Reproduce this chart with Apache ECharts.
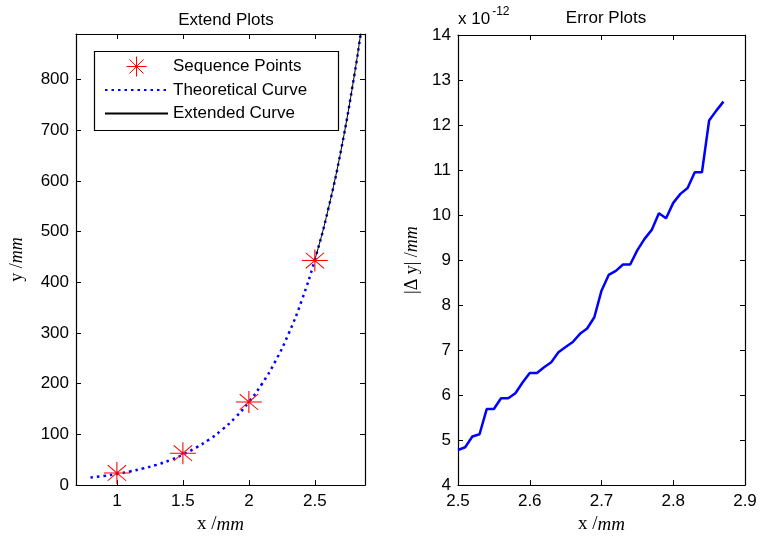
<!DOCTYPE html>
<html><head><meta charset="utf-8">
<script src="https://cdn.jsdelivr.net/npm/echarts@6/dist/echarts.min.js"></script>
<style>html,body{margin:0;padding:0;background:#fff}#c{width:760px;height:539px}</style>
</head><body><div id="c"></div>
<script>
// ---- data ----
const seqX = [1, 1.5, 2, 2.5];
const seqY = [24, 63, 164, 443];

const theoX = [0.8, 0.9, 1.0, 1.1, 1.2, 1.3, 1.4, 1.5, 1.6, 1.7, 1.8, 1.9, 2.0, 2.1, 2.2, 2.3, 2.4, 2.5, 2.6, 2.7, 2.8, 2.85, 2.88];
const theoY = [15, 18, 22, 27, 33, 40, 49, 60, 74, 90, 110, 134, 164, 200, 244, 298, 364, 445, 543, 663, 810, 895, 950];

const extX = [2.5, 2.55, 2.6, 2.65, 2.7, 2.75, 2.8, 2.85, 2.88];
const extY = [445, 491, 543, 600, 663, 733, 810, 895, 950];

const errX = [2.50, 2.51, 2.52, 2.53, 2.54, 2.55, 2.56, 2.57, 2.58, 2.59, 2.60, 2.61, 2.62, 2.63, 2.64, 2.65, 2.66, 2.67, 2.68, 2.69,
              2.70, 2.71, 2.72, 2.73, 2.74, 2.75, 2.76, 2.77, 2.78, 2.79, 2.80, 2.81, 2.82, 2.83, 2.84, 2.85, 2.86, 2.87];
const errY = [4.78, 4.84, 5.08, 5.13, 5.69, 5.69, 5.93, 5.93, 6.04, 6.28, 6.49, 6.49, 6.62, 6.73, 6.95, 7.07, 7.18, 7.36, 7.48, 7.73,
              8.32, 8.67, 8.76, 8.90, 8.90, 9.22, 9.47, 9.67, 10.04, 9.93, 10.27, 10.47, 10.60, 10.95, 10.95, 12.10, 12.32, 12.52];

const leftXTicks = [1, 1.5, 2, 2.5];
const leftYTicks = [0, 100, 200, 300, 400, 500, 600, 700, 800];
const rightXTicks = [2.5, 2.6, 2.7, 2.8, 2.9];
const rightYTicks = [4, 5, 6, 7, 8, 9, 10, 11, 12, 13, 14];

const seriesNames = ['Sequence Points', 'Theoretical Curve', 'Extended Curve'];
const titles = ['Extend Plots', 'Error Plots'];
const multiplierText = ['x 10', '-12'];

// ---- styling ----
const SANS = 'Arial, "Liberation Sans", Helvetica, sans-serif';
const SERIF = '"Times New Roman", "Liberation Serif", serif';
const starPath = 'path://M0,12L24,12M12,0L12,24M3.5,3.5L20.5,20.5M20.5,3.5L3.5,20.5';
const pairs = (xs, ys) => xs.map((x, i) => [x, ys[i]]);
const hiddenSym = { color: 'rgba(0,0,0,0)', borderColor: 'rgba(0,0,0,0)', borderWidth: 0, opacity: 0 };

const lbl = { color: '#000', fontFamily: SANS, fontSize: 17 };
function axisX(grid, min, max, ticks, pos, showLabel, name) {
  return {
    type: 'value', gridIndex: grid, min, max, position: pos,
    splitLine: { show: false },
    axisLine: { show: true, onZero: false, lineStyle: { color: '#000', width: 1.2 } },
    axisTick: { show: true, inside: true, length: 5, customValues: ticks, lineStyle: { color: '#000' } },
    axisLabel: Object.assign({ show: showLabel, margin: 8, customValues: ticks, showMinLabel: true, showMaxLabel: true }, lbl),
    name: name || '', nameLocation: 'middle', nameGap: 29,
    nameTextStyle: { rich: { n: { fontFamily: SERIF, fontSize: 19, color: '#000' }, i: { fontFamily: SERIF, fontSize: 19, fontStyle: 'italic', color: '#000' } } }
  };
}
function axisY(grid, min, max, ticks, pos, showLabel, name, gap) {
  return {
    type: 'value', gridIndex: grid, min, max, position: pos,
    splitLine: { show: false },
    axisLine: { show: true, onZero: false, lineStyle: { color: '#000', width: 1.2 } },
    axisTick: { show: true, inside: true, length: 5, customValues: ticks, lineStyle: { color: '#000' } },
    axisLabel: Object.assign({ show: showLabel, margin: 7, customValues: ticks, showMinLabel: true, showMaxLabel: true }, lbl),
    name: name || '', nameLocation: 'middle', nameGap: gap || 40, nameRotate: 90,
    nameTextStyle: { rich: { n: { fontFamily: SERIF, fontSize: 18, color: '#000' }, i: { fontFamily: SERIF, fontSize: 18, fontStyle: 'italic', color: '#000' } } }
  };
}

const chart = echarts.init(document.getElementById('c'), null, { renderer: 'canvas' });
chart.setOption({
  backgroundColor: '#fff',
  animation: false,
  title: [
    { text: titles[0], left: 221, top: 7, textAlign: 'center', textStyle: { fontFamily: SANS, fontSize: 17, fontWeight: 'normal', color: '#000' } },
    { text: titles[1], left: 601, top: 5, textAlign: 'center', textStyle: { fontFamily: SANS, fontSize: 17, fontWeight: 'normal', color: '#000' } }
  ],
  grid: [
    { left: 76, top: 34, width: 289, height: 453 },
    { left: 458, top: 35, width: 287, height: 451 }
  ],
  xAxis: [
    axisX(0, 0.69, 2.88, leftXTicks, 'bottom', true, '{n|x /}{i|mm}'),
    axisX(0, 0.69, 2.88, leftXTicks, 'top', false),
    axisX(1, 2.5, 2.9, rightXTicks, 'bottom', true, '{n|x /}{i|mm}'),
    axisX(1, 2.5, 2.9, rightXTicks, 'top', false)
  ],
  yAxis: [
    axisY(0, 0, 890, leftYTicks, 'left', true, '{n|y /}{i|mm}', 50),
    axisY(0, 0, 890, leftYTicks, 'right', false),
    axisY(1, 4, 14, rightYTicks, 'left', true, '{n||Δ y| /}{i|mm}', 37),
    axisY(1, 4, 14, rightYTicks, 'right', false)
  ],
  legend: {
    orient: 'vertical', left: 104, top: 55, padding: 0,
    itemWidth: 63, itemHeight: 20, itemGap: 0.5,
    textStyle: { fontFamily: SANS, fontSize: 17, color: '#000', lineHeight: 23 },
    data: [
      { name: seriesNames[0], icon: starPath, itemStyle: { color: 'rgba(0,0,0,0)', borderColor: '#ff0000', borderWidth: 1 } },
      { name: seriesNames[1], itemStyle: hiddenSym },
      { name: seriesNames[2], itemStyle: hiddenSym }
    ]
  },
  graphic: [
    { type: 'rect', left: 92, top: 49, shape: { width: 244, height: 79 }, style: { fill: 'none', stroke: '#000', lineWidth: 1.2 }, z: 100 },
    { type: 'text', left: 458, top: 6, z: 100,
      style: { text: '{a|' + multiplierText[0] + '}{b|' + multiplierText[1] + '}', rich: {
        a: { fontFamily: SANS, fontSize: 17, color: '#000', verticalAlign: 'bottom' },
        b: { fontFamily: SANS, fontSize: 12, color: '#000', verticalAlign: 'top', padding: [0, 0, 10, 2] } } } }
  ],
  series: [
    { name: seriesNames[1], type: 'line', xAxisIndex: 0, yAxisIndex: 0, data: pairs(theoX, theoY), symbol: 'none', smooth: true, clip: true,
      lineStyle: { color: '#0000ff', width: 2.5, type: [2.5, 4] }, itemStyle: { color: '#0000ff' }, z: 2 },
    { name: seriesNames[2], type: 'line', xAxisIndex: 0, yAxisIndex: 0, data: pairs(extX, extY), symbol: 'none', smooth: true, clip: true,
      lineStyle: { color: '#000', width: 1 }, itemStyle: { color: '#000' }, z: 3 },
    { name: seriesNames[0], type: 'scatter', xAxisIndex: 0, yAxisIndex: 0, data: pairs(seqX, seqY), symbol: starPath, symbolSize: [26, 22], symbolKeepAspect: false,
      itemStyle: { color: 'rgba(0,0,0,0)', borderColor: '#ff0000', borderWidth: 1, opacity: 1 }, z: 4 },
    { name: 'Error', type: 'line', xAxisIndex: 2, yAxisIndex: 2, data: pairs(errX, errY), symbol: 'none', clip: true,
      lineStyle: { color: '#0000ff', width: 2.5 }, z: 2 }
  ]
});
</script></body></html>
